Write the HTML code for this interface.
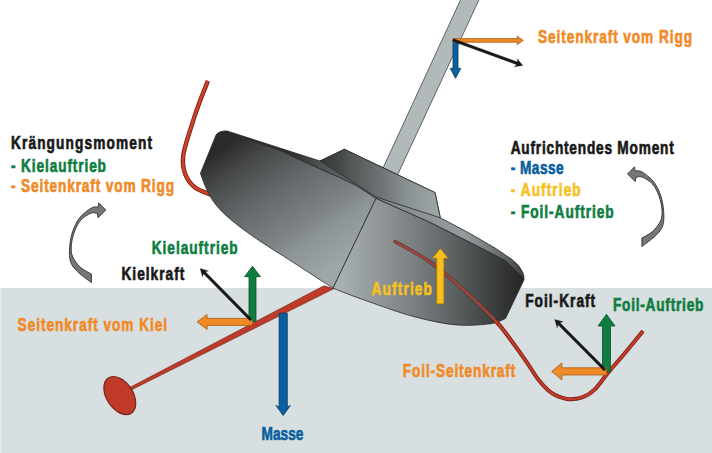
<!DOCTYPE html>
<html><head><meta charset="utf-8"><style>
html,body{margin:0;padding:0;background:#fff;width:712px;height:453px;overflow:hidden}
svg{display:block}
</style></head><body>
<svg width="712" height="453" viewBox="0 0 712 453"><defs>
<linearGradient id="gl" x1="220" y1="150" x2="309.4" y2="284" gradientUnits="userSpaceOnUse">
<stop offset="0" stop-color="#2a2a2a"/><stop offset="0.16" stop-color="#474949"/><stop offset="0.4" stop-color="#63686a"/><stop offset="0.69" stop-color="#808688"/><stop offset="0.77" stop-color="#8c9395"/><stop offset="1" stop-color="#9ea6a8"/></linearGradient>
<linearGradient id="gr" x1="340" y1="250" x2="525" y2="250" gradientUnits="userSpaceOnUse">
<stop offset="0" stop-color="#a9b0b2"/><stop offset="0.43" stop-color="#767c7e"/><stop offset="0.757" stop-color="#484b4b"/><stop offset="1" stop-color="#232424"/></linearGradient>
<linearGradient id="gc" x1="320" y1="0" x2="440" y2="0" gradientUnits="userSpaceOnUse">
<stop offset="0" stop-color="#353636"/><stop offset="0.167" stop-color="#464848"/><stop offset="0.25" stop-color="#535656"/><stop offset="0.533" stop-color="#6f7578"/><stop offset="0.75" stop-color="#8d9496"/><stop offset="1" stop-color="#9fa6a8"/></linearGradient>
<linearGradient id="gd" x1="220" y1="0" x2="525" y2="0" gradientUnits="userSpaceOnUse">
<stop offset="0" stop-color="#2a2a2a"/><stop offset="0.23" stop-color="#2e2f2f"/><stop offset="0.328" stop-color="#4e5152"/><stop offset="0.51" stop-color="#7d8283"/><stop offset="0.62" stop-color="#8a9092"/><stop offset="0.8" stop-color="#969c9e"/><stop offset="0.92" stop-color="#6a6e6f"/><stop offset="1" stop-color="#3a3b3b"/></linearGradient>
</defs>
<rect x="0" y="288" width="712" height="165" fill="#d8dfe1"/>
<rect x="0" y="288" width="1.2" height="165" fill="#e8eff2"/>
<polygon points="461.4,-2 479.8,-2 393.3,184 379.3,176.1" fill="#b2b9bb" stroke="#5f6466" stroke-width="1"/>
<path d="M207.9,80.9 C206.4,84.8 201.7,96.2 198.7,104.4 C195.7,112.6 192.7,121.7 190.1,130.3 C187.5,138.9 184.0,148.7 183.2,156.0 C182.4,163.3 183.2,168.8 185.2,174.0 C187.2,179.2 190.5,184.0 195.0,187.5 C199.5,191.0 209.2,193.8 212.0,195.0" fill="none" stroke="#7a2317" stroke-width="4.4"/>
<path d="M207.9,80.9 C206.4,84.8 201.7,96.2 198.7,104.4 C195.7,112.6 192.7,121.7 190.1,130.3 C187.5,138.9 184.0,148.7 183.2,156.0 C182.4,163.3 183.2,168.8 185.2,174.0 C187.2,179.2 190.5,184.0 195.0,187.5 C199.5,191.0 209.2,193.8 212.0,195.0" fill="none" stroke="#cf3f2a" stroke-width="2.6"/>
<polygon points="324,285.8 333.5,288.8 126,392.5 126,389.5" fill="#bf3a28" stroke="#7a2317" stroke-width="0.7"/>
<path d="M216,135 Q219,130.5 227,131 L320,161 L344.4,149.3 L435,192.6 L440.3,217.8 L470,233.5 L495,248 L512,259.5 Q520,265.5 522.8,272.5 Q524.5,277 523.9,280 L517,272 L505,260.5 L470,242.5 L430,222.5 L376,198.5 L358,186.5 L340,177.8 L320,169 L300,160 L279,150.1 L249,139.8 L224,135.5 Z" fill="url(#gd)" stroke="#222" stroke-width="0.8"/>
<path d="M216,135 Q220,135 224,135.5 L249,139.8 L279,150.1 L300,160 L320,169 L340,177.8 L358,186.5 L376,198.5 L333,288.2 C326.4,283.9 306.6,271.1 293.5,262.6 C280.4,254.1 265.0,244.6 254.5,237.4 C244.0,230.2 237.1,224.9 230.7,219.5 C224.2,214.1 219.8,209.6 215.8,204.7 C211.8,199.8 209.5,195.0 206.9,189.8 C204.3,184.6 201.5,176.1 200.4,173.4 Z" fill="url(#gl)" stroke="#2a2a2a" stroke-width="0.8"/>
<path d="M376,198.5 L430,222.5 L470,242.5 L505,260.5 L517,272 Q522,276 523.9,280 L505.5,318.5 C503.9,319.2 499.4,321.5 496.0,322.5 C492.6,323.5 490.5,323.8 485.2,324.3 C479.9,324.8 471.2,325.5 464.2,325.3 C457.2,325.1 451.3,324.6 443.1,323.2 C434.9,321.8 423.2,319.0 415.0,316.9 C406.8,314.8 400.8,312.7 394.0,310.5 C387.2,308.3 381.0,306.0 374.3,303.6 C367.6,301.2 360.8,298.9 353.9,296.3 C347.0,293.7 336.5,289.6 333.0,288.2 Z" fill="url(#gr)" stroke="#2a2a2a" stroke-width="0.8"/>
<path d="M320,161 L344.4,149.3 L435,192.6 L440.3,217.8 L376,197 Z" fill="url(#gc)" stroke="#2a2a2a" stroke-width="0.8"/>
<path d="M395.0,241.5 C400.8,244.9 419.2,254.5 430.0,262.0 C440.8,269.5 449.2,276.8 460.0,286.5 C470.8,296.2 486.3,311.1 494.8,320.0" fill="none" stroke="#5e3430" stroke-width="3.4" stroke-linecap="round"/>
<path d="M395.0,241.5 C400.8,244.9 419.2,254.5 430.0,262.0 C440.8,269.5 449.2,276.8 460.0,286.5 C470.8,296.2 486.3,311.1 494.8,320.0" fill="none" stroke="#a8473b" stroke-width="2" stroke-linecap="round"/>
<path d="M494.8,320 C503.3,328.9 505.7,333.2 511.0,340.2 C516.3,347.2 521.9,355.1 526.5,361.8 C531.1,368.5 534.8,375.2 538.9,380.3 C543.0,385.4 546.6,389.6 551.2,392.7 C555.8,395.8 561.6,398.1 566.7,398.9 C571.9,399.7 577.5,398.9 582.1,397.3 C586.7,395.8 590.4,393.5 594.5,389.6 C598.6,385.8 601.8,380.4 606.9,374.2 C612.0,368.0 619.4,359.7 625.4,352.5 C631.4,345.3 640.1,334.6 643.0,331.0" fill="none" stroke="#7a2317" stroke-width="4"/>
<path d="M494.8,320 C503.3,328.9 505.7,333.2 511.0,340.2 C516.3,347.2 521.9,355.1 526.5,361.8 C531.1,368.5 534.8,375.2 538.9,380.3 C543.0,385.4 546.6,389.6 551.2,392.7 C555.8,395.8 561.6,398.1 566.7,398.9 C571.9,399.7 577.5,398.9 582.1,397.3 C586.7,395.8 590.4,393.5 594.5,389.6 C598.6,385.8 601.8,380.4 606.9,374.2 C612.0,368.0 619.4,359.7 625.4,352.5 C631.4,345.3 640.1,334.6 643.0,331.0" fill="none" stroke="#c63c29" stroke-width="2.2"/>
<ellipse cx="119.8" cy="395.6" rx="21" ry="13.2" transform="rotate(57 119.8 395.6)" fill="#bf3a28" stroke="#7a2317" stroke-width="1.2"/>
<polygon points="453.0,40.0 453.0,68.3 450.2,68.3 455.5,78.3 460.8,68.3 458.0,68.3 458.0,40.0" fill="#0a5f9e" stroke="#0a3a66" stroke-width="0.8" stroke-linejoin="miter"/>
<polygon points="453.0,42.2 518.3,42.2 516.8,44.7 523.3,40.4 516.8,36.1 518.3,38.6 453.0,38.6" fill="#f08a26" stroke="#a85a14" stroke-width="0.8" stroke-linejoin="miter"/>
<polygon points="452.5,41.3 516.7,64.7 514.3,66.8 522.8,65.4 517.2,58.8 517.6,62.0 453.5,38.7" fill="#181818" stroke="#181818" stroke-width="0.3" stroke-linejoin="miter"/>
<polygon points="256.0,321.5 256.0,276.7 260.5,276.7 252.5,266.2 244.5,276.7 249.0,276.7 249.0,321.5" fill="#0f7d3f" stroke="#08502a" stroke-width="0.8" stroke-linejoin="miter"/>
<polygon points="252.0,318.4 207.1,318.4 207.1,314.4 197.1,321.9 207.1,329.4 207.1,325.4 252.0,325.4" fill="#f08a26" stroke="#a85a14" stroke-width="0.8" stroke-linejoin="miter"/>
<polygon points="252.0,319.0 205.4,271.8 208.5,270.9 200.2,268.5 202.4,276.8 203.4,273.8 250.0,321.0" fill="#181818" stroke="#181818" stroke-width="0.3" stroke-linejoin="miter"/>
<polygon points="279.1,313.2 279.1,407.0 275.9,405.5 283.2,415.5 290.4,405.5 287.3,407.0 287.3,313.2" fill="#0a5f9e" stroke="#0a3a66" stroke-width="0.8" stroke-linejoin="miter"/>
<polygon points="443.9,303.9 443.9,258.3 448.3,258.3 440.3,248.6 432.3,258.3 436.7,258.3 436.7,303.9" fill="#f8c01c" stroke="#a07a10" stroke-width="0.8" stroke-linejoin="miter"/>
<polygon points="610.5,372.0 610.5,326.0 615.0,326.0 606.5,314.3 598.0,326.0 602.5,326.0 602.5,372.0" fill="#0f7d3f" stroke="#08502a" stroke-width="0.8" stroke-linejoin="miter"/>
<polygon points="606.5,367.8 561.9,367.8 561.9,362.9 551.7,371.4 561.9,379.9 561.9,375.0 606.5,375.0" fill="#f08a26" stroke="#a85a14" stroke-width="0.8" stroke-linejoin="miter"/>
<polygon points="606.0,369.0 560.0,322.8 563.1,321.8 554.8,319.5 557.1,327.8 558.0,324.7 604.0,371.0" fill="#181818" stroke="#181818" stroke-width="0.3" stroke-linejoin="miter"/>
<path d="M627.5,173.9 L634.6,166.8 L635.0,170.9 C636.1,171.1 638.8,170.1 641.9,171.9 C645.0,173.7 650.6,177.9 653.8,181.9 C656.9,185.9 659.1,190.8 660.8,195.8 C662.4,200.8 663.4,206.7 663.7,211.7 C664.0,216.7 664.1,221.6 662.8,225.6 C661.5,229.6 659.3,232.0 655.8,235.5 C652.3,239.0 644.2,244.7 641.9,246.5 L641.9,238.0 C643.7,236.9 649.4,234.3 652.5,231.5 C655.6,228.7 658.9,224.6 660.5,221.0 C662.1,217.4 662.2,214.2 662.0,210.0 C661.8,205.8 660.6,200.3 659.0,196.0 C657.4,191.7 655.3,187.2 652.5,184.0 C649.7,180.8 644.8,178.1 642.0,177.0 C639.2,175.9 636.9,177.3 635.9,177.4 L635.2,181.6 Z" fill="#777777" stroke="#303030" stroke-width="0.9" stroke-linejoin="miter"/>
<path d="M105.8,210.0 L98.7,202.9 L98.3,207.0 C97.1,207.2 94.5,206.2 91.4,208.0 C88.3,209.8 82.6,214.0 79.5,218.0 C76.4,222.0 74.2,226.9 72.5,231.9 C70.8,236.9 69.9,242.8 69.6,247.8 C69.3,252.8 69.2,257.7 70.5,261.7 C71.8,265.7 74.0,268.1 77.5,271.6 C81.0,275.1 89.1,280.8 91.4,282.6 L91.4,274.1 C89.6,273.0 83.9,270.4 80.8,267.6 C77.7,264.8 74.4,260.7 72.8,257.1 C71.2,253.5 71.0,250.3 71.3,246.1 C71.5,241.9 72.7,236.4 74.3,232.1 C75.9,227.8 78.0,223.3 80.8,220.1 C83.6,216.9 88.5,214.2 91.3,213.1 C94.1,212.0 96.4,213.4 97.4,213.5 L98.1,217.7 Z" fill="#777777" stroke="#303030" stroke-width="0.9" stroke-linejoin="miter"/>
<g font-family="Liberation Sans, sans-serif" font-weight="bold">
<text transform="translate(11,149) scale(0.72,1)" x="0" y="0" fill="#181818" stroke="#181818" stroke-width="0.7" font-size="19" textLength="195.8" lengthAdjust="spacing">Krängungsmoment</text>
<text transform="translate(11,171.5) scale(0.72,1)" x="0" y="0" fill="#0f7d3f" stroke="#0f7d3f" stroke-width="0.7" font-size="19" textLength="131.9" lengthAdjust="spacing">- Kielauftrieb</text>
<text transform="translate(11,192) scale(0.72,1)" x="0" y="0" fill="#f08a26" stroke="#f08a26" stroke-width="0.7" font-size="19" textLength="226.4" lengthAdjust="spacing">- Seitenkraft vom Rigg</text>
<text transform="translate(538,42.7) scale(0.72,1)" x="0" y="0" fill="#f08a26" stroke="#f08a26" stroke-width="0.7" font-size="19" textLength="213.9" lengthAdjust="spacing">Seitenkraft vom Rigg</text>
<text transform="translate(510.7,153.5) scale(0.72,1)" x="0" y="0" fill="#181818" stroke="#181818" stroke-width="0.7" font-size="19" textLength="226.4" lengthAdjust="spacing">Aufrichtendes Moment</text>
<text transform="translate(510.7,174) scale(0.72,1)" x="0" y="0" fill="#0a5f9e" stroke="#0a5f9e" stroke-width="0.7" font-size="19" textLength="73.6" lengthAdjust="spacing">- Masse</text>
<text transform="translate(510.7,196.2) scale(0.72,1)" x="0" y="0" fill="#f8c01c" stroke="#f8c01c" stroke-width="0.7" font-size="19" textLength="97.2" lengthAdjust="spacing">- Auftrieb</text>
<text transform="translate(510.7,217.5) scale(0.72,1)" x="0" y="0" fill="#0f7d3f" stroke="#0f7d3f" stroke-width="0.7" font-size="19" textLength="143.1" lengthAdjust="spacing">- Foil-Auftrieb</text>
<text transform="translate(151.7,254) scale(0.72,1)" x="0" y="0" fill="#0f7d3f" stroke="#0f7d3f" stroke-width="0.7" font-size="19" textLength="119.4" lengthAdjust="spacing">Kielauftrieb</text>
<text transform="translate(121.4,279.8) scale(0.72,1)" x="0" y="0" fill="#181818" stroke="#181818" stroke-width="0.7" font-size="19" textLength="87.5" lengthAdjust="spacing">Kielkraft</text>
<text transform="translate(17.6,330.8) scale(0.72,1)" x="0" y="0" fill="#f08a26" stroke="#f08a26" stroke-width="0.7" font-size="19" textLength="207.6" lengthAdjust="spacing">Seitenkraft vom Kiel</text>
<text transform="translate(371.5,294.5) scale(0.72,1)" x="0" y="0" fill="#f8c01c" stroke="#f8c01c" stroke-width="0.7" font-size="19" textLength="84.0" lengthAdjust="spacing">Auftrieb</text>
<text transform="translate(525.2,306.7) scale(0.72,1)" x="0" y="0" fill="#181818" stroke="#181818" stroke-width="0.7" font-size="19" textLength="97.2" lengthAdjust="spacing">Foil-Kraft</text>
<text transform="translate(612.9,310.7) scale(0.72,1)" x="0" y="0" fill="#0f7d3f" stroke="#0f7d3f" stroke-width="0.7" font-size="19" textLength="125.7" lengthAdjust="spacing">Foil-Auftrieb</text>
<text transform="translate(402.8,376.5) scale(0.72,1)" x="0" y="0" fill="#f08a26" stroke="#f08a26" stroke-width="0.7" font-size="19" textLength="156.2" lengthAdjust="spacing">Foil-Seitenkraft</text>
<text transform="translate(261.5,439.7) scale(0.72,1)" x="0" y="0" fill="#0a5f9e" stroke="#0a5f9e" stroke-width="0.7" font-size="19" textLength="58.3" lengthAdjust="spacing">Masse</text>
</g></svg>
</body></html>
